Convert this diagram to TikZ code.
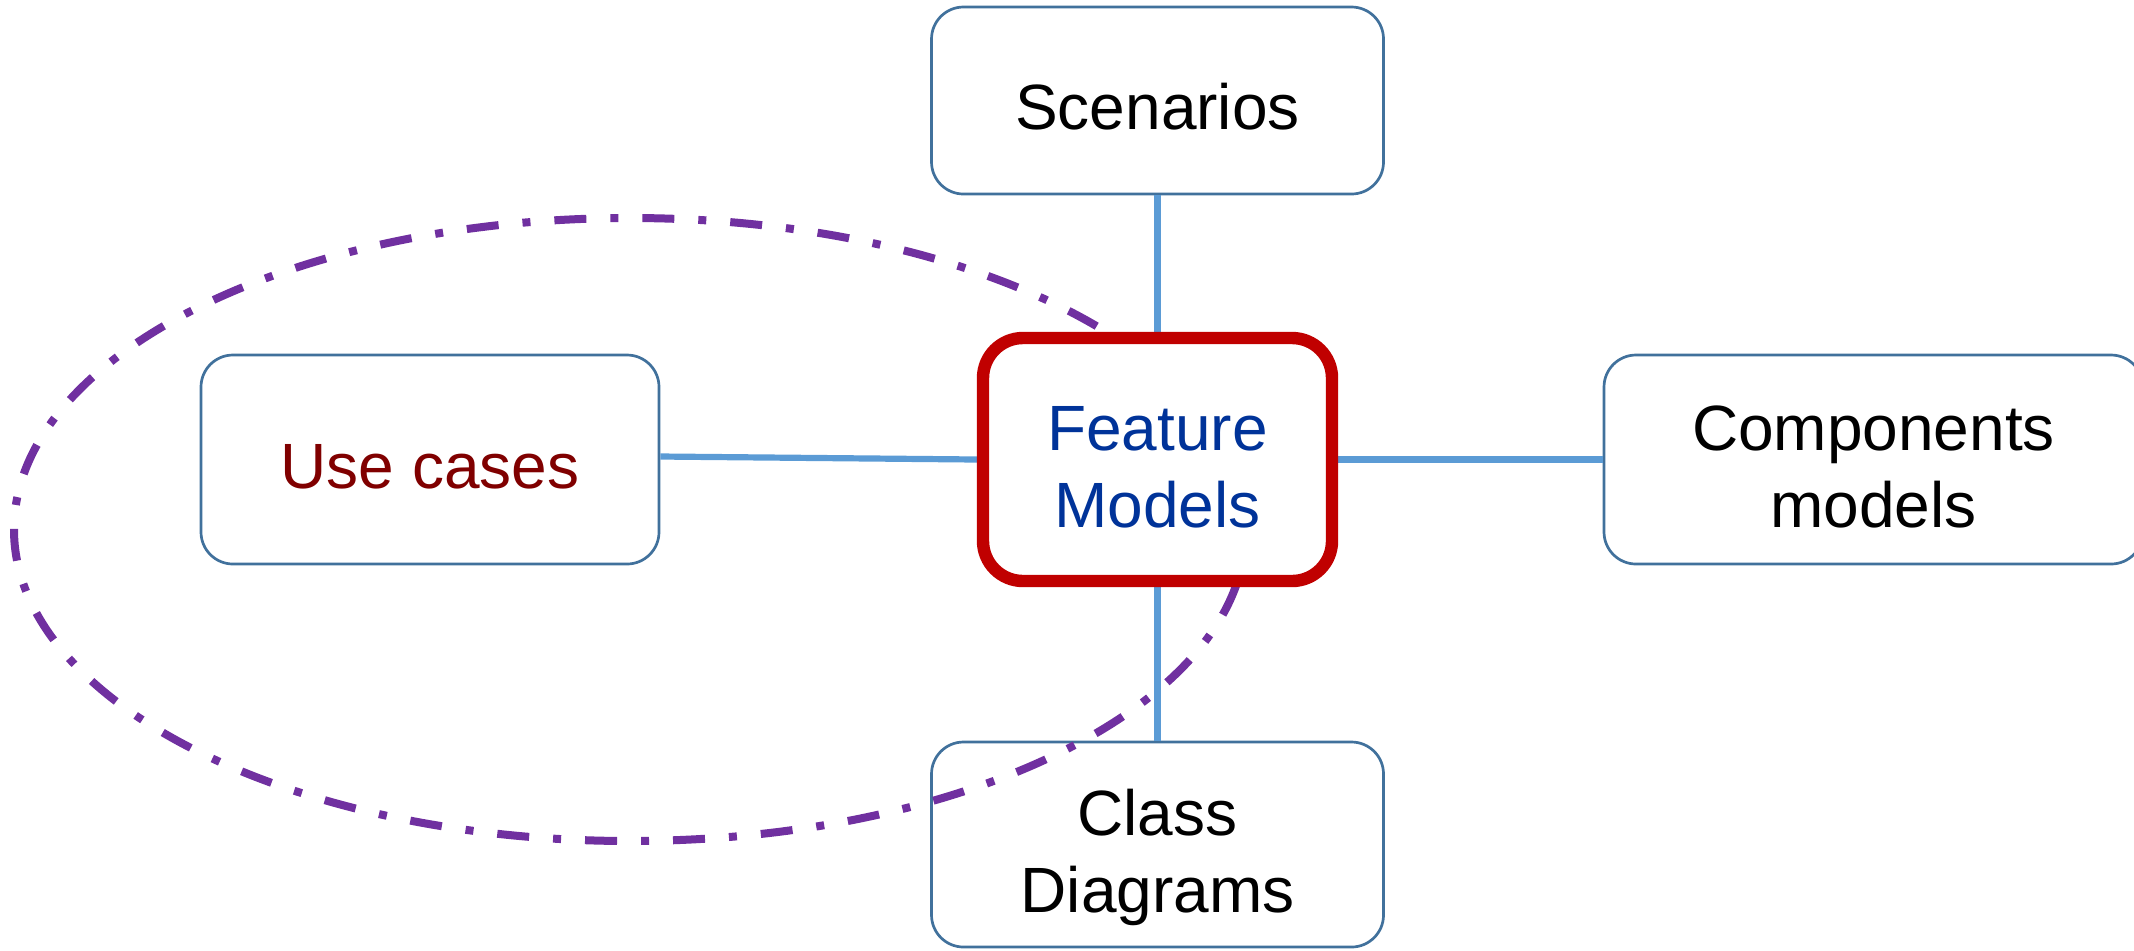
\documentclass[tikz,border=0pt]{standalone}
\usepackage{fontspec}
\setmainfont{Liberation Sans}

\definecolor{boxline}{HTML}{41719C}
\definecolor{linkblue}{HTML}{5B9BD5}
\definecolor{featred}{HTML}{C00000}
\definecolor{featblue}{HTML}{003399}
\definecolor{ucred}{HTML}{800000}
\definecolor{scopepurple}{HTML}{7030A0}

% the central box sits above the dash-dotted scope outline
\pgfdeclarelayer{front}
\pgfsetlayers{main,front}

% invisible struts that fix where the lines sit inside a box
\newcommand\topstrut{\rule{0pt}{36pt}}
\newcommand\botstrut{\rule[-7pt]{0pt}{7pt}}

\tikzset{
  box/.style={draw=boxline, line width=1.35pt, fill=white, rounded corners=16pt,
    inner sep=0pt, align=center, font=\fontsize{32pt}{38.5pt}\selectfont},
  featbox/.style={box, draw=featred, line width=6.2pt, rounded corners=20pt, text=featblue},
  link/.style={draw=linkblue, line width=3.1pt},
  scopeline/.style={draw=scopepurple, line width=4pt,
    dash pattern=on 16pt off 12pt on 4pt off 12pt},
}

\begin{document}
\begin{tikzpicture}[x=0.5pt, y=-0.5pt]
\useasboundingbox (0,0) rectangle (2134,950);
\clip (0,0) rectangle (2134,950);

% outer boxes
\node[box, minimum width=226pt, minimum height=93.5pt] (sc) at (1157.5,100.5)
  {\topstrut Scenarios\botstrut};
\node[box, minimum width=229pt, minimum height=104.5pt, text=ucred] (uc) at (430,459.5)
  {\topstrut Use cases\botstrut};
\node[box, minimum width=269.5pt, minimum height=104.5pt] (cm) at (1873.5,459.5)
  {\topstrut Components\\ models\botstrut};
\node[box, minimum width=226pt, minimum height=102.5pt] (cd) at (1157.5,844.5)
  {\topstrut Class\\ Diagrams\botstrut};

% central box
\begin{pgfonlayer}{front}
\node[featbox, minimum width=174.5pt, minimum height=121.5pt] (fm) at (1157.5,459.5)
  {\topstrut Feature\\ Models\botstrut};
\end{pgfonlayer}

% links to the central box
\draw[link] (sc.south) -- (fm.north);
\draw[link] (fm.south) -- (cd.north);
\draw[link] ([yshift=1.5pt]uc.east) -- (fm.west);
\draw[link] (fm.east) -- (cm.west);

% scope outline
\coordinate (scopecentre) at (630,529.5);
\draw[scopeline] (scopecentre) ellipse [x radius=308pt, y radius=155.75pt];
\end{tikzpicture}
\end{document}
